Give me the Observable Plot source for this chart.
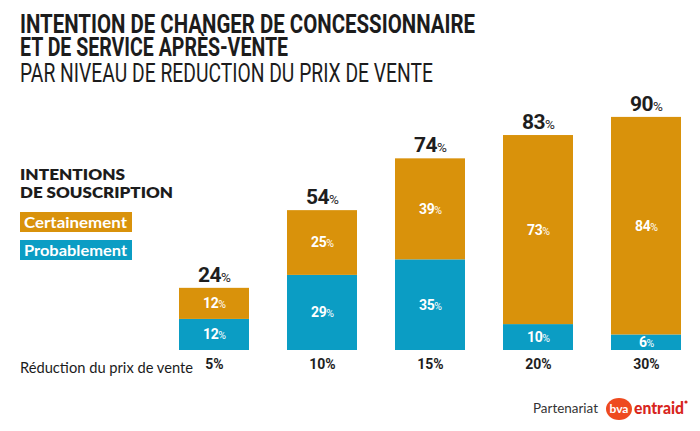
<!DOCTYPE html>
<html>
<head>
<meta charset="utf-8">
<script src="https://cdn.jsdelivr.net/npm/d3@7"></script>
<script src="https://cdn.jsdelivr.net/npm/@observablehq/plot@0.6"></script>
<style>
  html, body { margin: 0; padding: 0; background: #fff; }
  #chart { width: 700px; height: 431px; overflow: hidden; }
  svg { display: block; }
</style>
</head>
<body>
<div id="chart"></div>
<script>
// ---- data ----
const categories = ["5%", "10%", "15%", "20%", "30%"];
const probablement = [12, 29, 35, 10, 6];
const certainement = [12, 25, 39, 73, 84];
const totals = [24, 54, 74, 83, 90];
const seriesNames = ["Certainement", "Probablement"];
const seriesColors = ["#D9920B", "#0B9DC4"];
const titleLines = ["INTENTION DE CHANGER DE CONCESSIONNAIRE", "ET DE SERVICE APRÈS-VENTE"];
const subtitle = "PAR NIVEAU DE REDUCTION DU PRIX DE VENTE";
const legendTitle = ["INTENTIONS", "DE SOUSCRIPTION"];
const axisTitle = "Réduction du prix de vente";
const partner = "Partenariat";

const data = categories.flatMap((c, i) => [
  {cat: c, series: "Probablement", value: probablement[i]},
  {cat: c, series: "Certainement", value: certainement[i]}
]);
const totalData = categories.map((c, i) => ({cat: c, total: totals[i]}));

const numFont = "Roboto, 'DejaVu Sans', sans-serif";
const lato = "Lato, 'Open Sans', sans-serif";

const plot = Plot.plot({
  width: 700,
  height: 431,
  marginTop: 91,
  marginBottom: 81,
  marginLeft: 0,
  marginRight: 0,
  style: {background: "#fff", overflow: "visible"},
  x: {domain: categories, range: [179, 681], paddingInner: 0.352, paddingOuter: 0, axis: null},
  y: {domain: [0, 100], axis: null},
  color: {domain: seriesNames, range: seriesColors},
  marks: [
    Plot.barY(data, {x: "cat", y: "value", fill: "series"}),
    Plot.text(data, Plot.stackY({
      x: "cat", y: "value", text: d => d.value + "%",
      fill: "white", fontWeight: "bold", fontSize: 14, fontFamily: numFont
    })),
    Plot.text(totalData, {
      x: "cat", y: "total", text: d => d.total + "%", lineAnchor: "bottom", dy: -6.5,
      fill: "#1e1e1e", fontWeight: "bold", fontSize: 21, fontFamily: numFont
    }),
    Plot.text(categories, {
      x: d => d, frameAnchor: "bottom", dy: 18.5, text: d => d,
      fill: "#1e1e1e", fontWeight: "bold", fontSize: 14, fontFamily: numFont
    })
  ]
});
document.getElementById("chart").appendChild(plot);

const svg = d3.select(plot);

// smaller "%" signs on value labels
const textGroups = plot.querySelectorAll(":scope > g[aria-label='text']");
[[textGroups[0], 10.5, "white"], [textGroups[1], 13.5, "#1e1e1e"]].forEach(([g, pSize, col]) => {
  if (!g) return;
  g.querySelectorAll("text").forEach(el => {
    const t = el.textContent;
    el.textContent = "";
    const s = d3.select(el);
    s.append("tspan").attr("letter-spacing", "-0.5").text(t.slice(0, -1));
    s.append("tspan").attr("font-size", pSize).attr("font-weight", "normal").text("%");
  });
});

const add = (x, y) => svg.append("text").attr("x", x).attr("y", y).attr("text-anchor", "start");

// titles
const tl = [
  {text: titleLines[0], y: 33, w: 455, weight: 700, size: 26},
  {text: titleLines[1], y: 56, w: 268, weight: 700, size: 26},
  {text: subtitle, y: 82, w: 413, weight: 400, size: 26}
];
tl.forEach(l => {
  add(20, l.y)
    .attr("font-family", "Roboto, sans-serif").attr("font-weight", l.weight)
    .attr("font-size", l.size).attr("fill", "#1c1c1c")
    .attr("textLength", l.w).attr("lengthAdjust", "spacingAndGlyphs")
    .text(l.text);
});

// legend
[[legendTitle[0], 180, 105], [legendTitle[1], 198, 153]].forEach(([t, y, w]) => {
  add(20, y)
    .attr("font-family", lato).attr("font-weight", 800).attr("font-size", 15)
    .attr("fill", "#1c1c1c").attr("textLength", w).attr("lengthAdjust", "spacingAndGlyphs")
    .text(t);
});
[[seriesNames[0], seriesColors[0], 212], [seriesNames[1], seriesColors[1], 240]].forEach(([t, c, y]) => {
  svg.append("rect").attr("x", 20).attr("y", y).attr("width", 112).attr("height", 20).attr("fill", c);
  add(24, y + 15.5)
    .attr("font-family", lato).attr("font-weight", 700).attr("font-size", 15)
    .attr("fill", "#fff").attr("textLength", 103).attr("lengthAdjust", "spacingAndGlyphs")
    .text(t);
});

// axis title
add(20, 373)
  .attr("font-family", lato).attr("font-size", 15).attr("fill", "#1c1c1c")
  .attr("textLength", 173).attr("lengthAdjust", "spacingAndGlyphs")
  .text(axisTitle);

// partner logos
add(533, 413)
  .attr("font-family", lato).attr("font-size", 13).attr("fill", "#333")
  .attr("textLength", 65).attr("lengthAdjust", "spacingAndGlyphs")
  .text(partner);
svg.append("ellipse").attr("cx", 619).attr("cy", 409).attr("rx", 13).attr("ry", 11).attr("fill", "#EE4A1E");
svg.append("text").attr("x", 619).attr("y", 413).attr("text-anchor", "middle")
  .attr("font-family", lato).attr("font-weight", 700).attr("font-size", 12).attr("fill", "#fff")
  .text("bva");
add(634, 414)
  .attr("font-family", lato).attr("font-weight", 900).attr("font-size", 16).attr("fill", "#D8261C")
  .attr("textLength", 50).attr("lengthAdjust", "spacingAndGlyphs")
  .text("entraid");
svg.append("circle").attr("cx", 686).attr("cy", 402).attr("r", 1.6).attr("fill", "#D8261C");
</script>
</body>
</html>
